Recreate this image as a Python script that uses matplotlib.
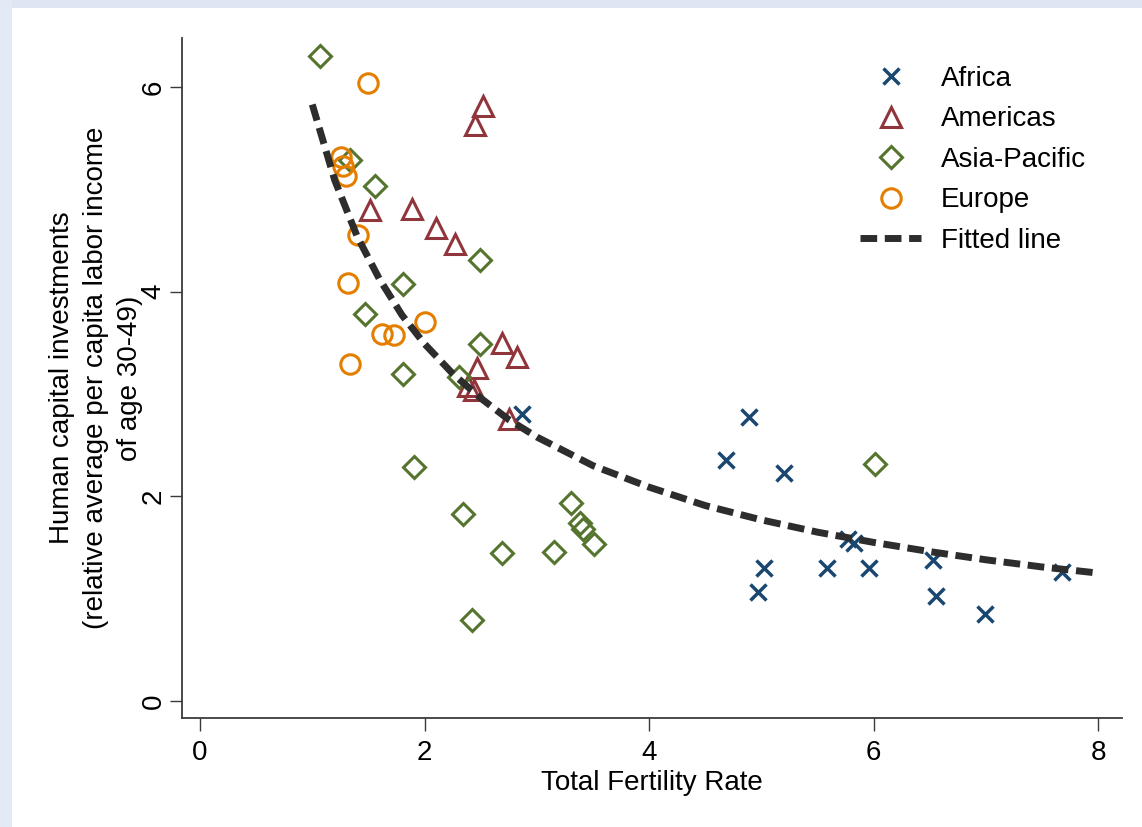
import matplotlib
matplotlib.use("Agg")
import matplotlib.pyplot as plt
from matplotlib.patches import Rectangle

plt.rcParams['font.family'] = ['Liberation Sans', 'DejaVu Sans']

# ---------------- data ----------------
africa_x = [2.87, 4.89, 4.68, 5.20, 5.77, 5.82, 5.02, 4.97, 5.58, 5.96, 6.53, 6.55, 6.99, 7.68]
africa_y = [2.81, 2.78, 2.36, 2.23, 1.58, 1.54, 1.30, 1.07, 1.30, 1.30, 1.38, 1.03, 0.85, 1.26]

americas_x = [2.52, 2.45, 1.51, 1.89, 2.10, 2.27, 2.69, 2.82, 2.47, 2.39, 2.44, 2.75]
americas_y = [5.82, 5.63, 4.80, 4.81, 4.62, 4.47, 3.50, 3.36, 3.25, 3.08, 3.04, 2.76]

asia_x = [1.07, 1.34, 1.56, 2.49, 1.81, 1.47, 2.49, 1.81, 2.31, 1.91,
          2.34, 3.30, 3.38, 3.41, 3.51, 2.69, 3.15, 2.42, 6.01]
asia_y = [6.30, 5.29, 5.03, 4.31, 4.08, 3.78, 3.49, 3.20, 3.17, 2.29,
          1.83, 1.94, 1.74, 1.68, 1.53, 1.45, 1.46, 0.79, 2.32]

europe_x = [1.50, 1.26, 1.27, 1.30, 1.41, 1.32, 2.00, 1.62, 1.73, 1.34]
europe_y = [6.04, 5.32, 5.23, 5.13, 4.55, 4.09, 3.70, 3.59, 3.58, 3.29]

fit_x = [1.0, 1.2, 1.4, 1.6, 1.8, 2.0, 2.25, 2.5, 2.75, 3.0, 3.5, 4.0,
         4.5, 5.0, 5.5, 6.0, 6.5, 7.0, 7.5, 8.0]
fit_y = [5.83, 5.09, 4.54, 4.12, 3.77, 3.49, 3.20, 2.96, 2.75, 2.58, 2.30, 2.09,
         1.91, 1.77, 1.65, 1.55, 1.46, 1.38, 1.31, 1.25]

x_ticks = [0, 2, 4, 6, 8]
y_ticks = [0, 2, 4, 6]

region_labels = ["Africa", "Americas", "Asia-Pacific", "Europe"]
fit_label = "Fitted line"
x_title = "Total Fertility Rate"
y_title = "Human capital investments\n(relative average per capita labor income\nof age 30-49)"

# ---------------- styling ----------------
c_africa = '#1a476f'
c_americas = '#90353b'
c_asia = '#55752f'
c_europe = '#e37e00'
c_fit = '#2d2d2d'
c_axis = '#3a3a3a'
FS = 20

W, H = 1142, 827
fig = plt.figure(figsize=(W / 100, H / 100), dpi=100)
fig.patch.set_facecolor('white')
fig.patches.append(Rectangle((0, 1 - 8 / H), 1, 8 / H, transform=fig.transFigure,
                             facecolor='#dfe6f3', edgecolor='none', zorder=0))
fig.patches.append(Rectangle((0, 0), 12 / W, 1, transform=fig.transFigure,
                             facecolor='#e3e9f5', edgecolor='none', zorder=0))

ax = fig.add_axes([182 / W, 109 / H, 940 / W, 680 / H])
ax.set_facecolor('white')

mew = 2.2
ax.plot(africa_x, africa_y, linestyle='none', marker='x', ms=11.5, mew=2.5,
        color=c_africa, label=region_labels[0], zorder=3)
ax.plot(americas_x, americas_y, linestyle='none', marker='^', ms=15, mew=mew,
        mfc='none', mec=c_americas, label=region_labels[1], zorder=3)
ax.plot(asia_x, asia_y, linestyle='none', marker='D', ms=11.5, mew=mew,
        mfc='none', mec=c_asia, label=region_labels[2], zorder=3)
ax.plot(europe_x, europe_y, linestyle='none', marker='o', ms=14, mew=mew,
        mfc='none', mec=c_europe, label=region_labels[3], zorder=3)
ax.plot(fit_x, fit_y, color=c_fit, lw=5, dashes=(2.4, 1.1),
        dash_capstyle='butt', label=fit_label, zorder=4)

ax.set_xlim(-0.16, 8.21)
ax.set_ylim(-0.166, 6.48)

for s in ['top', 'right']:
    ax.spines[s].set_visible(False)
for s in ['left', 'bottom']:
    ax.spines[s].set_color(c_axis)
    ax.spines[s].set_linewidth(1.3)

ax.set_xticks(x_ticks)
ax.set_xticklabels([str(v) for v in x_ticks])
ax.set_yticks(y_ticks)
ax.set_yticklabels([str(v) for v in y_ticks])
ax.tick_params(axis='both', length=9, width=1.0, color=c_axis, labelsize=FS,
               labelcolor='black', direction='out')
ax.tick_params(axis='x', pad=7)
ax.tick_params(axis='y', pad=2)
for t in ax.get_yticklabels():
    t.set_rotation(90)
    t.set_va('center')
    t.set_ha('right')

ax.set_xlabel(x_title, fontsize=FS, labelpad=3)
fig.text(96 / W, 1 - 378 / H, y_title, rotation=90, ha='center', va='center',
         multialignment='center', fontsize=FS, linespacing=1.4)

leg = ax.legend(loc='upper left', bbox_to_anchor=(860 / W, 1 - 66 / H),
                bbox_transform=fig.transFigure, frameon=False, fontsize=FS,
                handlelength=2.2, handletextpad=0.7, labelspacing=0.52,
                borderpad=0, borderaxespad=0, numpoints=1)

fig.savefig('out.png', dpi=100, facecolor=fig.get_facecolor())
